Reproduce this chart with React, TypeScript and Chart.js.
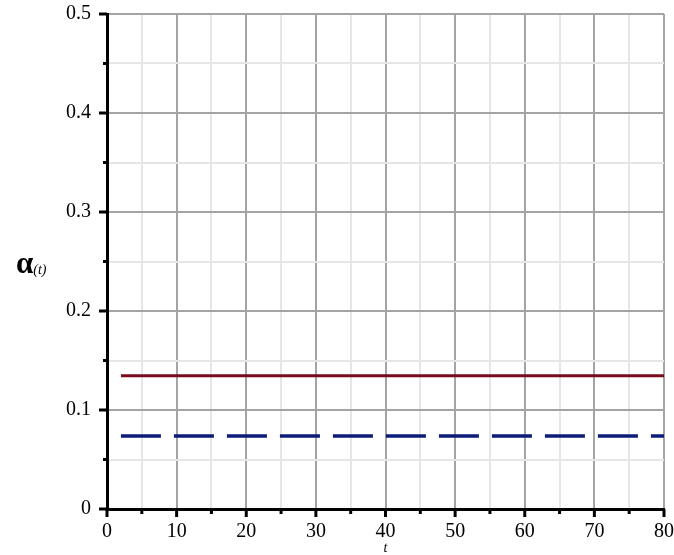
import React, { useEffect, useRef } from "react";
import { Chart, registerables } from "chart.js";

Chart.register(...registerables);

const tRange = [2, 80];
const redValues = [0.1347, 0.1347];
const blueValues = [0.0737, 0.0737];
const xTickLabels = ["0", "10", "20", "30", "40", "50", "60", "70", "80"];
const yTickLabels = ["0", "0.1", "0.2", "0.3", "0.4", "0.5"];

const W = 674;
const H = 555;
const MAJOR = "#a4a4a4";
const MINOR = "#e6e6e6";

const tickPlugin = {
  id: "tickMarks",
  afterDraw(chart: any) {
    const ctx = chart.ctx;
    const xs = chart.scales.x;
    const ys = chart.scales.y;
    const area = chart.chartArea;
    ctx.save();
    ctx.strokeStyle = "#000";
    ctx.lineWidth = 3;
    for (let v = 0; v <= 80; v += 5) {
      const px = xs.getPixelForValue(v);
      const len = v % 10 === 0 ? 8 : 5;
      ctx.beginPath();
      ctx.moveTo(px, area.bottom);
      ctx.lineTo(px, area.bottom + len);
      ctx.stroke();
    }
    for (let i = 0; i <= 10; i++) {
      const v = i * 0.05;
      const py = ys.getPixelForValue(v);
      const len = i % 2 === 0 ? 8 : 4;
      ctx.beginPath();
      ctx.moveTo(area.left, py);
      ctx.lineTo(area.left - len, py);
      ctx.stroke();
    }
    // y-axis title alpha_(t)
    ctx.fillStyle = "#000";
    ctx.textBaseline = "alphabetic";
    ctx.textAlign = "left";
    ctx.font = "bold 31px 'Liberation Serif'";
    ctx.fillText("\u03b1", 16, 273);
    const aw = ctx.measureText("\u03b1").width;
    ctx.font = "italic 14px 'Liberation Serif'";
    ctx.fillText("(t)", 16 + aw, 274);
    // x-axis title t
    ctx.textAlign = "center";
    ctx.font = "italic 14px 'Liberation Serif'";
    ctx.fillText("t", xs.getPixelForValue(40), 552);
    ctx.restore();
  },
};

const zeroPad = (s: any) => {
  s.paddingTop = 0;
  s.paddingBottom = 0;
  s.paddingLeft = 0;
  s.paddingRight = 0;
};

export default function App() {
  const ref = useRef<HTMLCanvasElement | null>(null);
  useEffect(() => {
    if (!ref.current) return;
    const chart = new Chart(ref.current, {
      type: "line",
      data: {
        datasets: [
          {
            data: tRange.map((t, i) => ({ x: t, y: redValues[i] })),
            borderColor: "#7a0a1c",
            borderWidth: 3,
            pointRadius: 0,
            fill: false,
          },
          {
            data: tRange.map((t, i) => ({ x: t, y: blueValues[i] })),
            borderColor: "#0b1c7a",
            borderWidth: 3.5,
            borderDash: [40, 13],
            borderCapStyle: "butt",
            pointRadius: 0,
            fill: false,
          },
        ],
      },
      options: {
        responsive: false,
        animation: false,
        devicePixelRatio: 1,
        layout: { padding: { top: 14, right: 10, left: 0, bottom: 0 } },
        plugins: { legend: { display: false }, tooltip: { enabled: false } },
        scales: {
          x: {
            type: "linear",
            min: 0,
            max: 80,
            afterFit: (s: any) => {
              s.height = 46;
              zeroPad(s);
            },
            border: { display: true, color: "#000", width: 3 },
            grid: {
              drawTicks: false,
              lineWidth: 2,
              color: (c: any) => (c.tick && c.tick.value % 10 === 0 ? MAJOR : MINOR),
            },
            ticks: {
              stepSize: 5,
              autoSkip: false,
              maxRotation: 0,
              padding: 11,
              color: "#000",
              font: { family: "'Liberation Serif'", size: 20 },
              callback: (v: any) => {
                if (v % 10 !== 0) return "";
                return xTickLabels[v / 10];
              },
            },
          },
          y: {
            type: "linear",
            min: 0,
            max: 0.5,
            afterFit: (s: any) => {
              s.width = 107;
              zeroPad(s);
            },
            border: { display: true, color: "#000", width: 3 },
            grid: {
              drawTicks: false,
              lineWidth: 2,
              color: (c: any) =>
                c.tick && Math.round(c.tick.value * 100) % 10 === 0 ? MAJOR : MINOR,
            },
            ticks: {
              stepSize: 0.05,
              autoSkip: false,
              padding: 16,
              color: "#000",
              font: { family: "'Liberation Serif'", size: 20 },
              callback: (v: any) => {
                const k = Math.round(v * 100);
                if (k % 10 !== 0) return "";
                return yTickLabels[k / 10];
              },
            },
          },
        },
      },
      plugins: [tickPlugin],
    } as any);
    return () => chart.destroy();
  }, []);
  return (
    <div style={{ position: "fixed", left: 0, top: 0, width: W, height: H, background: "#fff" }}>
      <canvas ref={ref} width={W} height={H} style={{ width: W, height: H, display: "block" }} />
    </div>
  );
}
